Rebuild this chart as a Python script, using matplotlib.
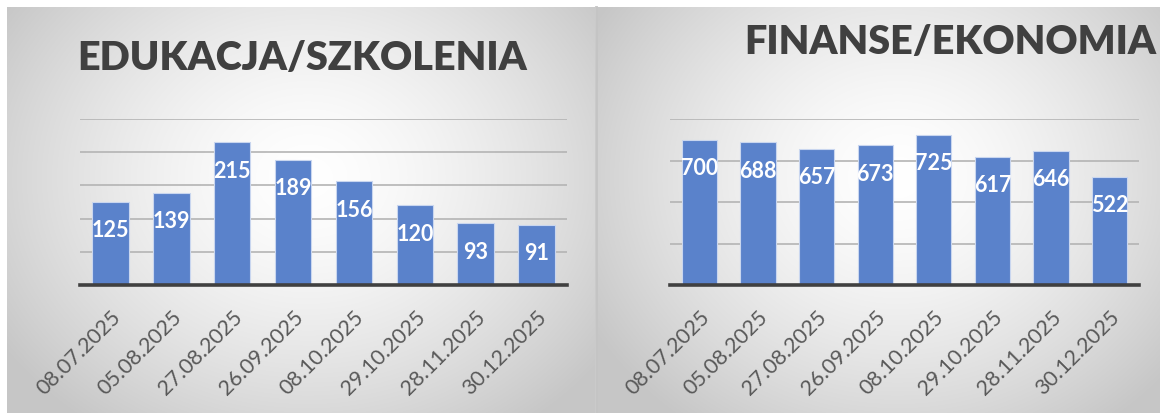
import matplotlib.pyplot as plt
import numpy as np

plt.rcParams['font.family'] = ['Lato', 'DejaVu Sans']

# dane
daty = ['08.07.2025', '05.08.2025', '27.08.2025', '26.09.2025',
        '08.10.2025', '29.10.2025', '28.11.2025', '30.12.2025']
edukacja = [125, 139, 215, 189, 156, 120, 93, 91]
finanse = [700, 688, 657, 673, 725, 617, 646, 522]
tytuly = ['EDUKACJA/SZKOLENIA', 'FINANSE/EKONOMIA']

W, H = 1160, 414
fig = plt.figure(figsize=(W / 100, H / 100), dpi=100)
fig.patch.set_facecolor('white')


def px(x0, y0, x1, y1):
    # prostokat w pikselach (od gory) -> wspolrzedne figury
    return [x0 / W, 1 - y1 / H, (x1 - x0) / W, (y1 - y0) / H]


def tlo(rect, cx, cy):
    # gradient radialny jak w Excelu
    ax = fig.add_axes(px(*rect), zorder=-5)
    w = rect[2] - rect[0]
    h = rect[3] - rect[1]
    yy, xx = np.mgrid[0:h, 0:w]
    r = np.sqrt(((xx - cx) / (w * 0.62)) ** 2 + ((yy - cy) / (h * 0.75)) ** 2)
    t = np.clip(r, 0, 1) ** 1.5
    v = 1.0 - t * (1.0 - 0.78)
    ax.imshow(np.dstack([v, v, v]), aspect='auto', interpolation='bilinear',
              vmin=0, vmax=1)
    ax.axis('off')


tlo((7, 8, 594, 414), 300, 170)
tlo((597, 8, 1160, 414), 300, 170)
fig.add_artist(plt.Line2D([595.5 / W, 595.5 / W], [0, 1 - 8 / H],
                          transform=fig.transFigure, color='#c4c4c4', lw=2))

niebieski = '#5A82CB'


def wykres(rect, wartosci, ymax, krok, tytul, tx, ty):
    ax = fig.add_axes(px(*rect))
    ax.patch.set_alpha(0)
    x = np.arange(len(wartosci))
    ax.bar(x, wartosci, width=0.6, color=niebieski, edgecolor='#c9d6ef',
           linewidth=0.8, zorder=3)
    for xi, v in zip(x, wartosci):
        ax.annotate(str(v), (xi, v), xytext=(0, -20), textcoords='offset points',
                    ha='center', va='center', color='white', fontsize=15.5,
                    fontweight='bold', zorder=4)
    ax.set_xlim(-0.5, len(wartosci) - 0.5)
    ax.set_ylim(0, ymax)
    ax.set_yticks(np.arange(krok, ymax + 1, krok))
    ax.yaxis.grid(True, color='#b4b4b4', lw=1.2, zorder=0)
    ax.tick_params(axis='y', left=False, labelleft=False)
    ax.tick_params(axis='x', length=0, pad=15)
    ax.set_xticks(x)
    ax.set_xticklabels(daty, rotation=45, ha='right', rotation_mode='anchor',
                       fontsize=15.5, color='#595959')
    for s in ['top', 'right', 'left']:
        ax.spines[s].set_visible(False)
    ax.spines['bottom'].set_color('#404040')
    ax.spines['bottom'].set_linewidth(2.6)
    ax.spines['bottom'].set_zorder(5)
    fig.text(tx / W, 1 - ty / H, tytul, ha='center', va='center',
             fontsize=28.5, fontweight='heavy', color='#404040')
    return ax


wykres((80, 120, 567, 286), edukacja, 250, 50, tytuly[0], 302, 58)
wykres((670, 120, 1139, 286), finanse, 800, 200, tytuly[1], 950, 42)

fig.savefig('out.png', dpi=100)
